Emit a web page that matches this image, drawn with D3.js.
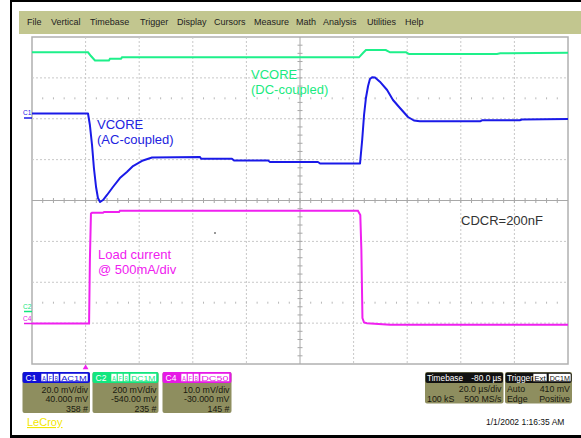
<!DOCTYPE html>
<html>
<head>
<meta charset="utf-8">
<script src="https://cdn.jsdelivr.net/npm/d3@7"></script>
<style>
  body { margin: 0; background: #fff; }
  svg { display: block; font-family: "Liberation Sans", Arial, sans-serif; }
</style>
</head>
<body>
<svg id="scope" width="581" height="438"></svg>
<script>
// time in us (20 us/div, trigger at 0), level in screen divisions
var c1Trace = [[-20,2.128],[0.9,2.128],[1.6,1.847],[2.4,1.358],[3.1,0.795],[3.9,0.33],[4.6,0.061],[5.4,-0.037],
  [6.5,0.012],[8,0.135],[10.2,0.33],[12.8,0.55],[15.4,0.697],[17.7,0.844],[21.4,0.979],[24.8,1.052],[42.7,1.064],
  [43.1,1.023],[54.6,1.023],[55.4,0.979],[68.1,0.979],[68.8,0.942],[86.7,0.942],[87.5,0.905],[102.4,0.905],
  [103.2,1.48],[103.9,2.092],[104.6,2.508],[105.4,2.801],[106.1,2.972],[106.9,3.014],[108,3.009],[109.8,2.906],
  [112.5,2.703],[114.7,2.459],[117.3,2.263],[120.3,2.043],[122.5,1.957],[124.7,1.938],[147.2,1.938],[147.9,1.962],
  [162,1.962],[162.8,1.982],[180,1.994]];
var c2Trace = [[-20,3.626],[0.9,3.626],[2,3.535],[3.5,3.425],[8.7,3.425],[9.1,3.469],[13.2,3.469],[13.6,3.503],
  [102,3.503],[103.5,3.609],[104.6,3.682],[112,3.682],[113.6,3.626],[119.6,3.626],[120.7,3.584],[153.5,3.584],
  [154.7,3.601],[180,3.616]];
var c4Trace = [[-20,-3.009],[1.3,-3.009],[1.6,-1.456],[2,-0.318],[2.4,-0.301],[6.5,-0.301],[6.9,-0.281],
  [12.5,-0.281],[12.8,-0.252],[101.6,-0.252],[102.5,-0.355],[102.9,-1.211],[103.3,-2.875],[103.9,-2.985],
  [105,-3.004],[113.6,-3.041],[180,-3.041]];

var menuItems = ["File","Vertical","Timebase","Trigger","Display","Cursors","Measure","Math","Analysis","Utilities","Help"];
var menuX = [27,51,90,140,177,214,254,296,323,367,405];

var channels = [
  {name:"C1", color:"#1010d8", coupling:"AC1M", lines:["20.0 mV/div","40.000 mV","358 #"], x0:22.5, x1:90},
  {name:"C2", color:"#12e67e", coupling:"DC1M", lines:["200 mV/div","-540.00 mV","235 #"], x0:92.5, x1:158.5},
  {name:"C4", color:"#e619e6", coupling:"DC50", lines:["10.0 mV/div","-30.000 mV","145 #"], x0:162.5, x1:231.5}
];

var svg = d3.select("#scope");
var x = d3.scaleLinear().domain([-20, 180]).range([32, 568]);
var y = d3.scaleLinear().domain([-4, 4]).range([364, 37]);

// outer frame and menu bar
svg.append("rect").attr("x",10).attr("y",0).attr("width",2).attr("height",438).attr("fill","#000");
svg.append("rect").attr("x",10).attr("y",0).attr("width",571).attr("height",2).attr("fill","#000");
svg.append("rect").attr("x",10).attr("y",435).attr("width",571).attr("height",3).attr("fill","#000");
svg.append("rect").attr("x",19).attr("y",11).attr("width",562).attr("height",23).attr("fill","#c2c68f");
svg.selectAll(".menu").data(menuItems).enter().append("text")
  .attr("x", function(d, i) { return menuX[i]; }).attr("y", 25)
  .attr("font-size", 9).attr("fill", "#222").text(function(d) { return d; });

// grid
var g = svg.append("g");
g.append("rect").attr("x",32).attr("y",37).attr("width",536).attr("height",327)
  .attr("fill","#fff").attr("stroke","#b0b0b0").attr("stroke-width",1.5);
g.selectAll(".vg").data(d3.range(0, 180, 20).filter(function(t){ return t !== 80; })).enter().append("line")
  .attr("x1", function(d){ return x(d); }).attr("x2", function(d){ return x(d); })
  .attr("y1", 37).attr("y2", 364).attr("stroke","#c8c8c8").attr("stroke-dasharray","2,2");
g.selectAll(".hg").data([-3,-2,-1,1,2,3]).enter().append("line")
  .attr("y1", function(d){ return y(d); }).attr("y2", function(d){ return y(d); })
  .attr("x1", 32).attr("x2", 568).attr("stroke","#c8c8c8").attr("stroke-dasharray","2,2");
g.append("line").attr("x1",x(80)).attr("x2",x(80)).attr("y1",37).attr("y2",364).attr("stroke","#a8a8a8");
g.append("line").attr("x1",32).attr("x2",568).attr("y1",y(0)).attr("y2",y(0)).attr("stroke","#a8a8a8");
g.selectAll(".tx").data(d3.range(-16, 180, 4)).enter().append("line")
  .attr("x1", function(d){ return x(d); }).attr("x2", function(d){ return x(d); })
  .attr("y1", y(0) - 2.5).attr("y2", y(0) + 2.5).attr("stroke","#a8a8a8");
g.selectAll(".ty").data(d3.range(-3.8, 4, 0.2)).enter().append("line")
  .attr("y1", function(d){ return y(d); }).attr("y2", function(d){ return y(d); })
  .attr("x1", x(80) - 2.5).attr("x2", x(80) + 2.5).attr("stroke","#a8a8a8");
[2.5, -2.5].forEach(function(lv) {
  g.selectAll(".dot" + (lv > 0 ? "a" : "b")).data(d3.range(-16, 180, 4)).enter().append("rect")
    .attr("x", function(d){ return x(d) - 0.5; }).attr("y", y(lv) - 1)
    .attr("width",1).attr("height",2).attr("fill","#b8b8b8");
});
g.append("rect").attr("x",214).attr("y",232).attr("width",2).attr("height",2).attr("fill","#999");

// traces
var line = d3.line().x(function(d){ return x(d[0]); }).y(function(d){ return y(d[1]); });
svg.append("path").datum(c2Trace).attr("d", line).attr("fill","none")
  .attr("stroke","#1ef08a").attr("stroke-width",2);
svg.append("path").datum(c4Trace).attr("d", line).attr("fill","none")
  .attr("stroke","#f020f0").attr("stroke-width",2);
svg.append("path").datum(c1Trace).attr("d", line).attr("fill","none")
  .attr("stroke","#1a1ae8").attr("stroke-width",2).attr("stroke-linejoin","round");

// channel markers at the left edge
var markers = [["C1","#1a1ae8",115,118],["C2","#12e67e",309,311.5],["C4","#e619e6",320.5,323.5]];
markers.forEach(function(m) {
  svg.append("text").attr("x",23).attr("y",m[2]).attr("font-size",6.5).attr("fill",m[1]).text(m[0]);
  svg.append("line").attr("x1",24).attr("x2",32).attr("y1",m[3]).attr("y2",m[3]).attr("stroke",m[1]).attr("stroke-width",1.5);
});

// annotations
function label(lines, x0, y0, color) {
  lines.forEach(function(s, i) {
    svg.append("text").attr("x", x0).attr("y", y0 + i * 15).attr("font-size", 13)
      .attr("fill", color).text(s);
  });
}
label(["VCORE","(DC-coupled)"], 251, 79, "#19ea80");
label(["VCORE","(AC-coupled)"], 97, 129, "#2222e0");
label(["Load current","@ 500mA/div"], 98, 259, "#f020f0");
label(["CDCR=200nF"], 461, 225, "#333");

// trigger marker
svg.append("path").attr("d", d3.symbol().type(d3.symbolTriangle).size(14)())
  .attr("transform","translate(" + x(0) + ",367.5)").attr("fill","#f020f0");

// channel boxes
var body = "#8e8e5f";
function tag(txt, x0, w, color) {
  svg.append("rect").attr("x",x0).attr("y",373.5).attr("width",w).attr("height",8)
    .attr("rx",1).attr("fill","#fff").attr("stroke",color).attr("stroke-width",0.6);
  svg.append("text").attr("x",x0+1.2).attr("y",380.6).attr("font-size",8)
    .attr("textLength", w - 2.4).attr("lengthAdjust","spacingAndGlyphs")
    .attr("fill",color).text(txt);
}
channels.forEach(function(c) {
  var w = c.x1 - c.x0;
  svg.append("rect").attr("x",c.x0).attr("y",372).attr("width",w).attr("height",41).attr("rx",2).attr("fill",body);
  svg.append("rect").attr("x",c.x0).attr("y",372).attr("width",w).attr("height",11).attr("rx",2).attr("fill",c.color);
  svg.append("text").attr("x",c.x0+3).attr("y",381).attr("font-size",8.5).attr("fill","#fff").text(c.name);
  tag("A", c.x0+18.5, 6, c.color);
  tag("F", c.x0+25, 5.5, c.color);
  tag("B", c.x0+31, 5.5, c.color);
  tag(c.coupling, c.x0+37.5, w-39.5, c.color);
  c.lines.forEach(function(s, i) {
    svg.append("text").attr("x",c.x1-2).attr("y",392.5 + i*9.5).attr("text-anchor","end")
      .attr("font-size",8.8).attr("fill","#1a1a10").text(s);
  });
});

// timebase and trigger boxes
function infoBox(x0, x1, title, extra, rows) {
  var w = x1 - x0;
  svg.append("rect").attr("x",x0).attr("y",372).attr("width",w).attr("height",31.5).attr("rx",2).attr("fill",body);
  svg.append("rect").attr("x",x0+0.5).attr("y",372.5).attr("width",w-1).attr("height",10.5).attr("rx",2).attr("fill","#111");
  svg.append("text").attr("x",x0+2).attr("y",381).attr("font-size",8.3).attr("fill","#fff").text(title);
  extra(x0, x1);
  rows.forEach(function(r, i) {
    if (r[0]) svg.append("text").attr("x",x0+2).attr("y",392 + i*9.5).attr("font-size",8.8).attr("fill","#1a1a10").text(r[0]);
    svg.append("text").attr("x",x1-2).attr("y",392 + i*9.5).attr("text-anchor","end")
      .attr("font-size",8.8).attr("fill","#1a1a10").text(r[1]);
  });
}
infoBox(425, 503.5, "Timebase", function(x0, x1) {
  svg.append("text").attr("x",x1-2).attr("y",381).attr("text-anchor","end").attr("font-size",8.3).attr("fill","#fff").text("-80.0 µs");
}, [["","20.0 µs/div"],["100 kS","500 MS/s"]]);
infoBox(505, 572, "Trigger", function(x0, x1) {
  tag("Ext", 533, 14, "#111");
  tag("DC1M", 548.5, 22.5, "#111");
}, [["Auto","410 mV"],["Edge","Positive"]]);

svg.append("text").attr("x",27).attr("y",426).attr("font-size",11).attr("fill","#f2e600")
  .attr("text-decoration","underline").text("LeCroy");
svg.append("text").attr("x",486).attr("y",425).attr("font-size",8.5).attr("fill","#111").text("1/1/2002 1:16:35 AM");
</script>
</body>
</html>
